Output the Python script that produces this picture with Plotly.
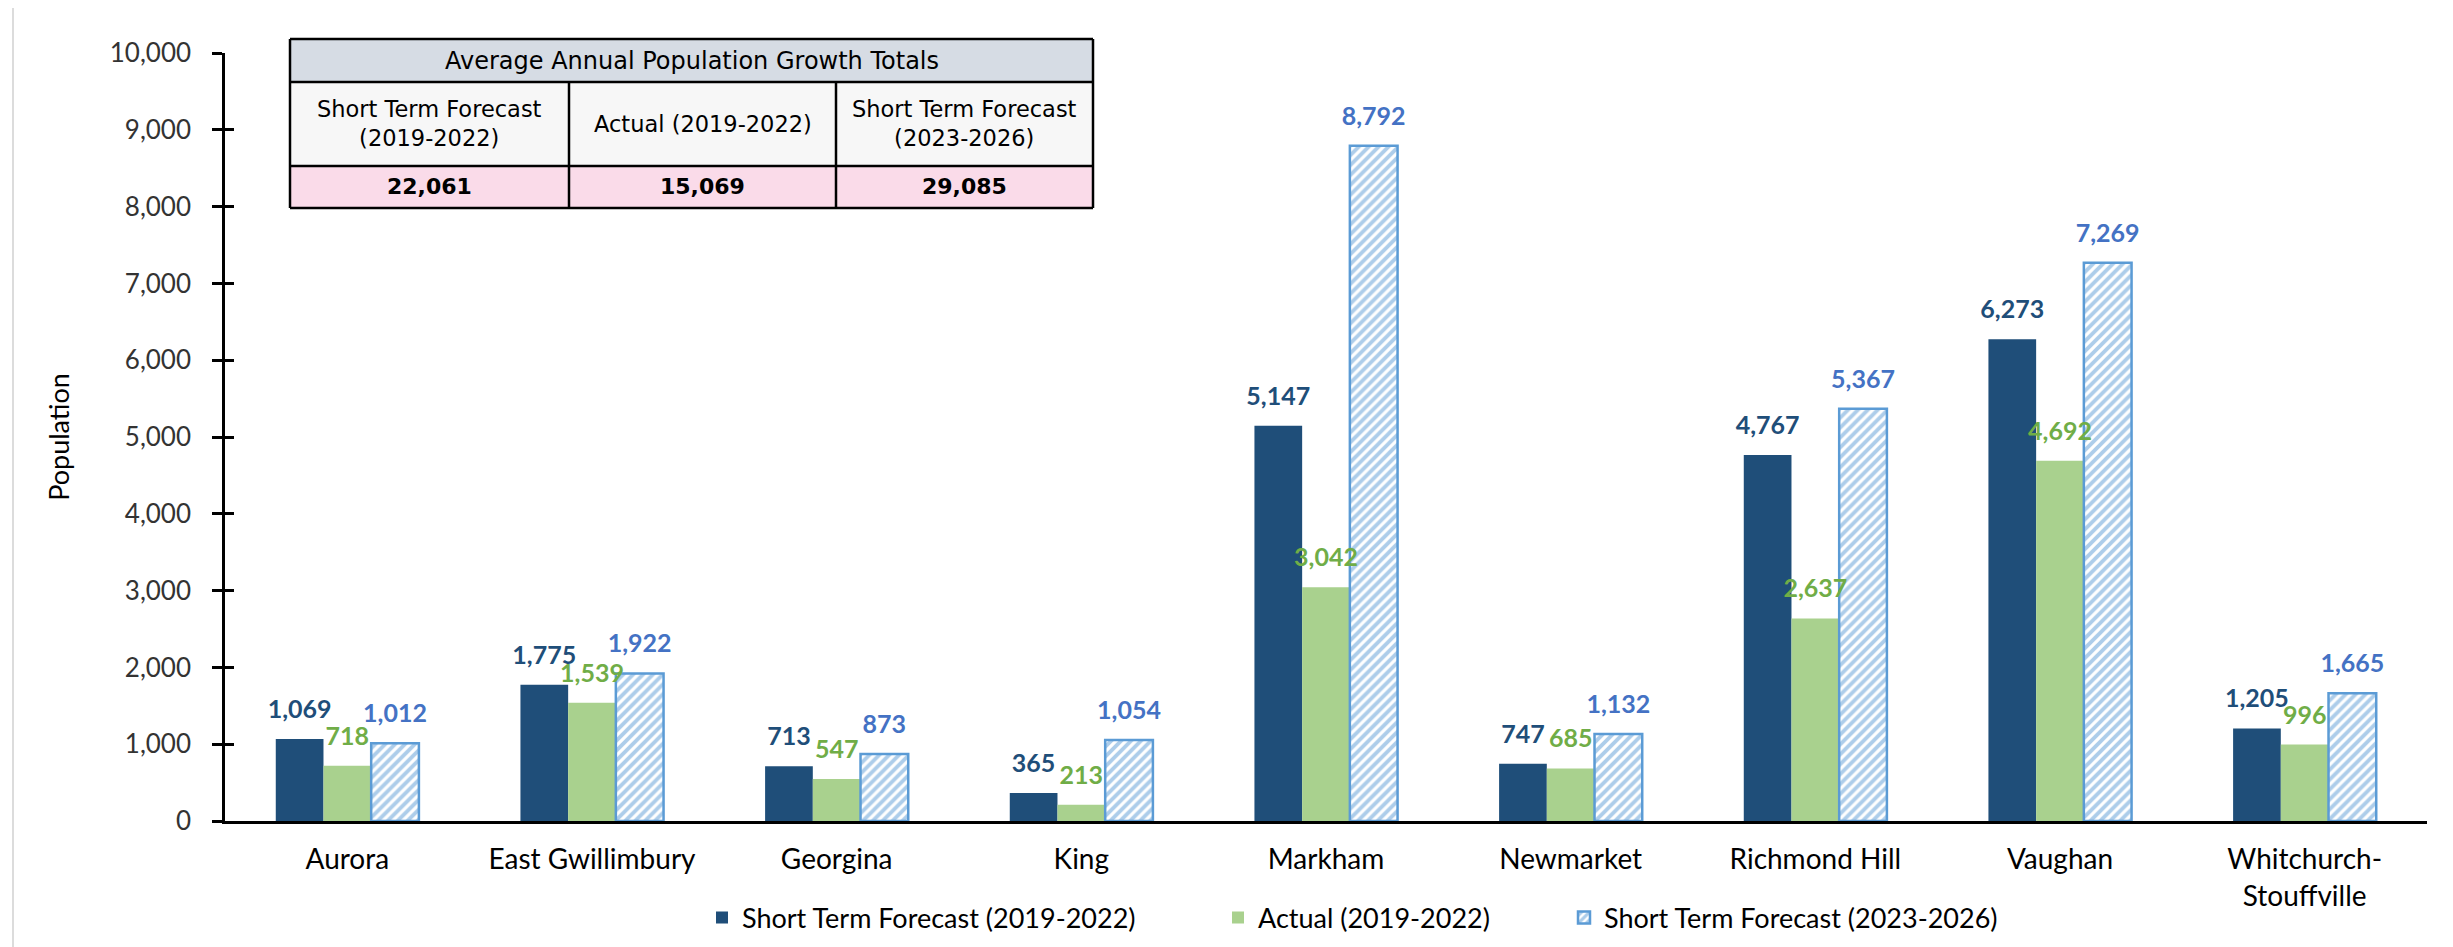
import plotly.graph_objects as go

categories = ["Aurora", "East Gwillimbury", "Georgina", "King", "Markham",
              "Newmarket", "Richmond Hill", "Vaughan", "Whitchurch-<br>Stouffville"]
series_names = ["Short Term Forecast (2019-2022)", "Actual (2019-2022)",
                "Short Term Forecast (2023-2026)"]
stf_2019_2022 = [1069, 1775, 713, 365, 5147, 747, 4767, 6273, 1205]
actual_2019_2022 = [718, 1539, 547, 213, 3042, 685, 2637, 4692, 996]
stf_2023_2026 = [1012, 1922, 873, 1054, 8792, 1132, 5367, 7269, 1665]

table_title = "Average Annual Population Growth Totals"
table_headers = ["Short Term Forecast<br>(2019-2022)", "Actual (2019-2022)",
                 "Short Term Forecast<br>(2023-2026)"]
table_totals = ["22,061", "15,069", "29,085"]

y_ticks = list(range(0, 10001, 1000))

# geometry (pixels)
W, H = 2453, 947
L, R, B = 217, 34, 126
T_SET = 45            # plotly adds ~8px above this
PLOT_TOP, PLOT_BOT = 53, H - B
plot_h = PLOT_BOT - PLOT_TOP
plot_w = W - L - R


def px_x(p):  # page pixel -> paper x
    return (p - L) / plot_w


def px_y(p):  # page pixel -> paper y
    return (PLOT_BOT - p) / plot_h


bar_cols = ["#1F4E79", "#A9D18E", "#FFFFFF"]
lab_cols = ["#1F4E79", "#70AD47", "#4472C4"]
vals = [stf_2019_2022, actual_2019_2022, stf_2023_2026]
legends = ["legend", "legend2", "legend3"]

fig = go.Figure()
for i in range(3):
    marker = dict(color=bar_cols[i], line=dict(width=0))
    if i == 2:
        marker = dict(color="white", line=dict(color="#5B9BD5", width=2.5),
                      pattern=dict(shape="/", fgcolor="#5B9BD5", bgcolor="white",
                                   size=7, solidity=0.55))
    fig.add_trace(go.Bar(x=categories, y=vals[i], name=series_names[i],
                         marker=marker, legend=legends[i], offsetgroup=f"g{i}",
                         hoverinfo="skip"))

for i in range(3):
    fig.add_trace(go.Scatter(
        x=categories, y=vals[i], mode="markers+text",
        marker=dict(size=22, opacity=0),
        text=[f"{v:,}" for v in vals[i]], textposition="top center",
        textfont=dict(family="Lato", size=25, color=lab_cols[i], weight="bold"),
        offsetgroup=f"g{i}", hoverinfo="skip", showlegend=False, cliponaxis=False))

# invisible trace to carry the inner tick axis
fig.add_trace(go.Scatter(x=[categories[0]], y=[0], yaxis="y2", mode="markers",
                         marker=dict(opacity=0), hoverinfo="skip", showlegend=False))

# summary table drawn as shapes + text (page pixel edges)
col_edges = [282, 561, 828, 1085]
row_edges = [39, 82, 166, 208]
row_fills = ["#D6DCE4", "#F7F7F7", "#FADBE9"]
shapes = [dict(type="line", xref="paper", yref="paper", x0=px_x(5), x1=px_x(5),
               y0=px_y(H), y1=px_y(0), line=dict(color="#D0D0D0", width=1.5))]
for r in range(3):
    shapes.append(dict(type="rect", xref="paper", yref="paper",
                       x0=px_x(col_edges[0]), x1=px_x(col_edges[-1]),
                       y0=px_y(row_edges[r + 1]), y1=px_y(row_edges[r]),
                       fillcolor=row_fills[r], line=dict(width=0), layer="above"))
bline = dict(color="black", width=2.5)
for yv in row_edges:
    shapes.append(dict(type="line", xref="paper", yref="paper",
                       x0=px_x(col_edges[0]), x1=px_x(col_edges[-1]),
                       y0=px_y(yv), y1=px_y(yv), line=bline, layer="above"))
for j, xv in enumerate(col_edges):
    top = row_edges[0] if j in (0, len(col_edges) - 1) else row_edges[1]
    shapes.append(dict(type="line", xref="paper", yref="paper",
                       x0=px_x(xv), x1=px_x(xv), y0=px_y(row_edges[-1]), y1=px_y(top),
                       line=bline, layer="above"))

annotations = [dict(xref="paper", yref="paper",
                    x=px_x((col_edges[0] + col_edges[-1]) / 2),
                    y=px_y((row_edges[0] + row_edges[1]) / 2),
                    text=table_title, showarrow=False, xanchor="center", yanchor="middle",
                    font=dict(family="DejaVu Sans", size=24, color="black"))]
for j in range(3):
    cx = px_x((col_edges[j] + col_edges[j + 1]) / 2)
    annotations.append(dict(xref="paper", yref="paper", x=cx,
                            y=px_y((row_edges[1] + row_edges[2]) / 2),
                            text=table_headers[j], showarrow=False, align="center",
                            xanchor="center", yanchor="middle",
                            font=dict(family="DejaVu Sans", size=22.5, color="black")))
    annotations.append(dict(xref="paper", yref="paper", x=cx,
                            y=px_y((row_edges[2] + row_edges[3]) / 2),
                            text=table_totals[j], showarrow=False,
                            xanchor="center", yanchor="middle",
                            font=dict(family="DejaVu Sans", size=22, color="black",
                                      weight="bold")))

leg_common = dict(orientation="h", yanchor="middle", y=px_y(918), xanchor="left",
                  font=dict(family="Lato", size=27, color="black"),
                  bgcolor="rgba(0,0,0,0)", borderwidth=0)

fig.update_layout(
    width=W, height=H,
    margin=dict(l=L, r=R, t=T_SET, b=B),
    paper_bgcolor="white", plot_bgcolor="white",
    barmode="group", bargap=0.415, bargroupgap=0,
    scattermode="group", scattergap=0.415,
    font=dict(family="Lato", color="black"),
    shapes=shapes, annotations=annotations,
    xaxis=dict(showline=True, linecolor="black", linewidth=2.5, ticks="",
               showgrid=False, tickfont=dict(family="Lato", size=28, color="black"),
               ticklabelstandoff=12, automargin=False),
    yaxis=dict(range=[0, 10000], tickvals=y_ticks, tickformat=",",
               showline=True, linecolor="black", linewidth=2.5, ticks="outside",
               ticklen=10, tickwidth=2.5, tickcolor="black", showgrid=False,
               zeroline=False, ticklabelstandoff=16, automargin=False,
               tickfont=dict(family="Lato", size=26, color="#333333"),
               title=dict(text="Population", standoff=33,
                          font=dict(family="Lato", size=27, color="black"))),
    yaxis2=dict(overlaying="y", side="left", range=[0, 10000], automargin=False,
                tickvals=y_ticks, ticks="inside", ticklen=9, tickwidth=2.5,
                tickcolor="black", showticklabels=False, showgrid=False,
                zeroline=False, showline=False),
    legend=dict(x=px_x(694), **leg_common),
    legend2=dict(x=px_x(1210), **leg_common),
    legend3=dict(x=px_x(1556), **leg_common),
)

fig.write_html("out.html")
